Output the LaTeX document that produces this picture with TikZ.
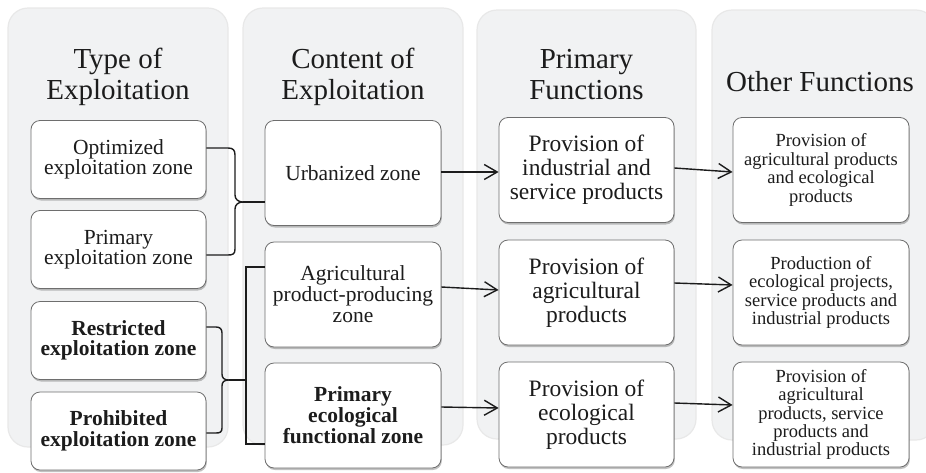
\documentclass[tikz,border=0pt]{standalone}
\usepackage{fontspec}
\setmainfont{Liberation Serif}
\newfontfamily\timesfont{Liberation Serif}
\usetikzlibrary{arrows.meta,shadows}

\definecolor{panelfill}{RGB}{241,242,243}
\definecolor{boxline}{RGB}{110,110,110}
\definecolor{ink}{RGB}{28,28,28}

\begin{document}
\begin{tikzpicture}[x=1pt,y=-1pt,
  panel/.style={fill=panelfill, draw=black!9, line width=1.2pt, rounded corners=20pt},
  title/.style={align=center, text=ink, inner sep=0pt, font=\timesfont\fontsize{29}{31}\selectfont},
  zonebox/.style={draw=boxline, fill=white, line width=0.8pt, rounded corners=9pt,
    align=center, text=ink, inner sep=2pt,
    drop shadow={shadow xshift=0.8pt, shadow yshift=-2pt, opacity=0.35, fill=black!70}},
  typebox/.style={zonebox, minimum width=175pt, minimum height=78pt, font=\timesfont\fontsize{21.5}{20.5}\selectfont},
  contentbox/.style={zonebox, minimum width=176pt, minimum height=105pt, font=\timesfont\fontsize{21.5}{21}\selectfont},
  primbox/.style={zonebox, minimum width=175pt, minimum height=105pt, font=\timesfont\fontsize{23.5}{24}\selectfont},
  otherbox/.style={zonebox, minimum width=176pt, minimum height=105pt, font=\timesfont\fontsize{18.5}{18.4}\selectfont},
  link/.style={draw=ink, line width=1.4pt},
  arrow/.style={link, -{Straight Barb[length=13pt, width=15pt, line width=1.4pt]}}
]
\useasboundingbox (0,0) rectangle (926,472);

% column panels
\path[panel] (8,8) rectangle (228,447);
\path[panel] (243,8) rectangle (463,445);
\path[panel] (477,10) rectangle (696,439);
\path[panel] (712,10) rectangle (936,440);

% column headings (anchored on the baseline of the last line)
\node[title, anchor=base] (h1) at (118,99) {Type of\\Exploitation};
\node[title, anchor=base] (h2) at (353,99) {Content of\\Exploitation};
\node[title, anchor=base] (h3) at (586.5,99) {Primary\\Functions};
\node[title, anchor=base] (h4) at (820,91) {Other Functions};

% type of exploitation
\node[typebox] (o1) at (118.5,159.5) {Optimized\\exploitation zone};
\node[typebox] (o2) at (118.5,249.5) {Primary\\exploitation zone};
\node[typebox] (o3) at (118.5,340.5) {\bfseries Restricted\\\bfseries exploitation zone};
\node[typebox] (o4) at (118.5,431) {\bfseries Prohibited\\\bfseries exploitation zone};

% content of exploitation
\node[contentbox] (c1) at (353,173) {Urbanized zone};
\node[contentbox] (c2) at (353,294.5) {Agricultural\\product-producing\\zone};
\node[contentbox] (c3) at (353,415.5) {\bfseries Primary\\\bfseries ecological\\\bfseries functional zone};

% primary functions
\node[primbox] (p1) at (586.5,170) {Provision of\\industrial and\\service products};
\node[primbox] (p2) at (586.5,292.5) {Provision of\\agricultural\\products};
\node[primbox] (p3) at (586.5,414.5) {Provision of\\ecological\\products};

% other functions
\node[otherbox] (f1) at (821,170) {Provision of\\agricultural products\\and ecological\\products};
\node[otherbox] (f2) at (821,292.5) {Production of\\ecological projects,\\service products and\\industrial products};
\node[otherbox] (f3) at (821,414.5) {Provision of\\agricultural\\products, service\\products and\\industrial products};

% brace joining the first two zones
\coordinate (j1) at (243,202);
\draw[link] (o1.east |- 0,148) -- (228,148) .. controls (233,148) and (235,150) .. (235,155)
  -- (235,195) .. controls (235,199) and (238,202) .. (j1)
  .. controls (238,202) and (235,205) .. (235,209)
  -- (235,249) .. controls (235,254) and (233,255) .. (228,255) -- (o2.east |- 0,255);
\draw[link] (j1) -- (c1.west |- j1);

% brace joining the restricted and prohibited zones
\coordinate (j2) at (229,380);
\draw[link] (o3.east |- 0,327) -- (216,327) .. controls (220,327) and (222,329) .. (222,333)
  -- (222,374) .. controls (222,378) and (224,380) .. (j2)
  .. controls (224,380) and (222,382) .. (222,386)
  -- (222,428) .. controls (222,432) and (220,433) .. (216,433) -- (o4.east |- 0,433);
\coordinate (k2) at (246,380);
\draw[link] (j2) -- (k2);
% square bracket to the two content zones
\draw[link] (c2.west |- 0,267) -- (246,267) -- (246,444) -- (c3.west |- 0,444);

% arrows to primary functions
\draw[arrow] (c1.east |- 0,172) -- (p1.west |- 0,172);
\draw[arrow] (c2.east |- 0,287) -- (p2.west |- 0,290);
\draw[arrow] (c3.east |- 0,407) -- (p3.west |- 0,408);

% arrows to other functions
\draw[arrow] (p1.east |- 0,168) -- (f1.west |- 0,172);
\draw[arrow] (p2.east |- 0,283) -- (f2.west |- 0,285);
\draw[arrow] (p3.east |- 0,403) -- (f3.west |- 0,405);
\end{tikzpicture}
\end{document}
